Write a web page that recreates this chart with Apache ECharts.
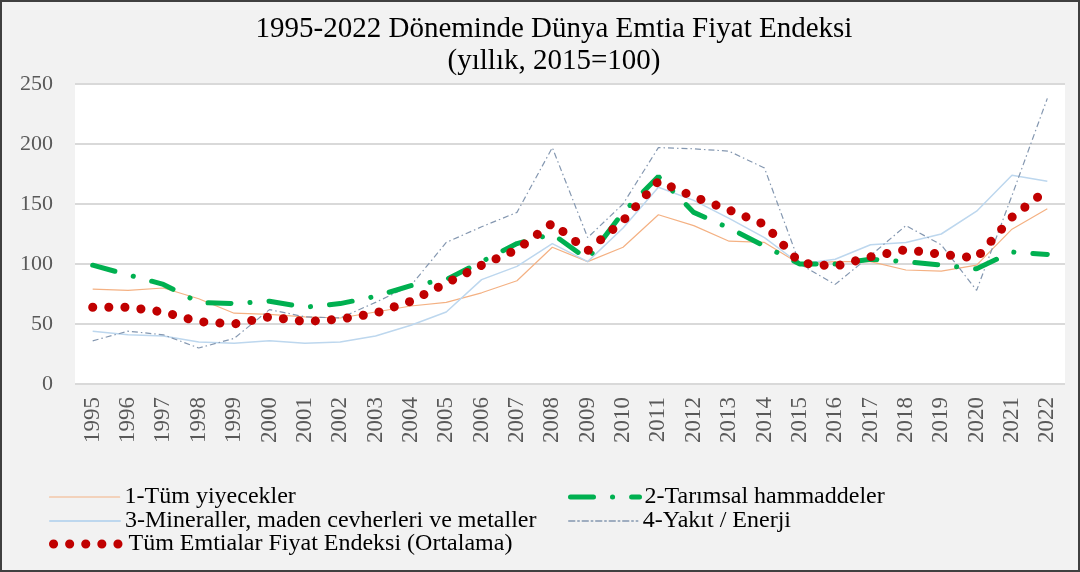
<!DOCTYPE html>
<html lang="tr">
<head>
<meta charset="UTF-8">
<title>Dünya Emtia Fiyat Endeksi</title>
<script src="https://cdn.jsdelivr.net/npm/echarts@6/dist/echarts.min.js"></script>
<style>
  html, body { margin: 0; padding: 0; background: #f2f2f2; }
  #chart { width: 1080px; height: 572px; box-sizing: border-box; border: 2px solid #404040; }
</style>
</head>
<body>
<div id="chart"></div>
<script>
var years = ['1995','1996','1997','1998','1999','2000','2001','2002','2003','2004','2005','2006','2007','2008',
             '2009','2010','2011','2012','2013','2014','2015','2016','2017','2018','2019','2020','2021','2022'];
var yiyecek = [79, 78, 80, 71, 59, 58, 56, 55, 60, 65, 68, 76, 86, 114, 102, 114, 141, 132, 119, 118, 100, 102, 102, 95, 94, 99, 129, 146];
var tarimsal = [99, 91, 83, 68, 67, 69, 64, 67, 73, 82, 87, 102, 117, 125, 104, 143, 173, 143, 130, 115, 100, 100, 104, 102, 99, 96, 110, 108];
var maden = [44, 41, 40, 35, 34, 36, 34, 35, 40, 49, 60, 87, 98, 117, 102, 130, 164, 153, 138, 122, 100, 104, 116, 118, 125, 144, 174, 169];
var yakit = [36, 44, 41, 30, 38, 62, 56, 55, 68, 82, 118, 131, 143, 197, 122, 150, 197, 196, 194, 180, 100, 83, 107, 132, 116, 78, 157, 238];
var ortalama = [64, 64, 60, 52, 50, 56, 52, 54, 59, 69, 84, 99, 112, 134, 111, 136, 169, 156, 145, 133, 101, 98, 106, 112, 108, 105, 139, 162];
var names = ['1-Tüm yiyecekler', '2-Tarımsal hammaddeler', '3-Mineraller, maden cevherleri ve metaller',
             '4-Yakıt / Enerji', 'Tüm Emtialar Fiyat Endeksi (Ortalama)'];

var serif = '"Liberation Serif", "Times New Roman", serif';
var chart = echarts.init(document.getElementById('chart'));

// one legend per item so the two-column layout can be placed by hand
function legendAt(name, left, top, width, color, lineW) {
  return {
    data: [name], left: left, top: top, itemWidth: width, itemHeight: 14, itemGap: 0,
    selectedMode: false,
    itemStyle: { opacity: 0 },
    lineStyle: { color: color, width: lineW, cap: 'round' },
    textStyle: { fontFamily: serif, fontSize: 24, color: '#000' }
  };
}

var option = {
  backgroundColor: '#f2f2f2',
  animation: false,
  title: {
    text: '1995-2022 Döneminde Dünya Emtia Fiyat Endeksi\n(yıllık, 2015=100)',
    left: 547, textAlign: 'center', top: 6,
    textStyle: { fontFamily: serif, fontSize: 29, fontWeight: 'normal', color: '#000', lineHeight: 32 }
  },
  legend: [
    legendAt(names[0], 42, 478, 70, '#f4b183', 1.2),
    legendAt(names[1], 561, 478, 69, '#00b050', 5),
    legendAt(names[2], 42, 502, 70, '#bdd7ee', 2),
    legendAt(names[3], 561, 502, 69, '#8497b0', 1.5),
    legendAt(names[4], 42, 525, 70, '#c00000', 9)
  ],
  grid: { left: 73, right: 13, top: 82, bottom: 186, show: true, backgroundColor: '#fff', borderWidth: 0 },
  xAxis: {
    type: 'category', data: years, boundaryGap: true,
    axisLine: { show: false }, axisTick: { show: false },
    axisLabel: { rotate: 90, fontFamily: serif, fontSize: 23, color: '#595959', margin: 13 }
  },
  yAxis: {
    type: 'value', min: 0, max: 250, interval: 50,
    axisLine: { show: false }, axisTick: { show: false },
    axisLabel: { fontFamily: serif, fontSize: 22, color: '#595959', margin: 22 },
    splitLine: { lineStyle: { color: '#d9d9d9', width: 2 } }
  },
  series: [
    { name: names[0], type: 'line', data: yiyecek, symbol: 'none',
      lineStyle: { color: '#f4b183', width: 1.2 }, itemStyle: { color: '#f4b183' } },
    { name: names[2], type: 'line', data: maden, symbol: 'none',
      lineStyle: { color: '#bdd7ee', width: 1.5 }, itemStyle: { color: '#bdd7ee' } },
    { name: names[3], type: 'line', data: yakit, symbol: 'none',
      lineStyle: { color: '#8497b0', width: 1.2, type: [6, 3, 1.5, 3] }, itemStyle: { color: '#8497b0' } },
    { name: names[1], type: 'line', data: tarimsal, symbol: 'none',
      lineStyle: { color: '#00b050', width: 5, type: [23, 19, 0.1, 19], cap: 'round' }, itemStyle: { color: '#00b050' } },
    { name: names[4], type: 'line', data: ortalama, symbol: 'none',
      lineStyle: { color: '#c00000', width: 9, type: [0.1, 16], cap: 'round' }, itemStyle: { color: '#c00000' } }
  ]
};
chart.setOption(option);
</script>
</body>
</html>
